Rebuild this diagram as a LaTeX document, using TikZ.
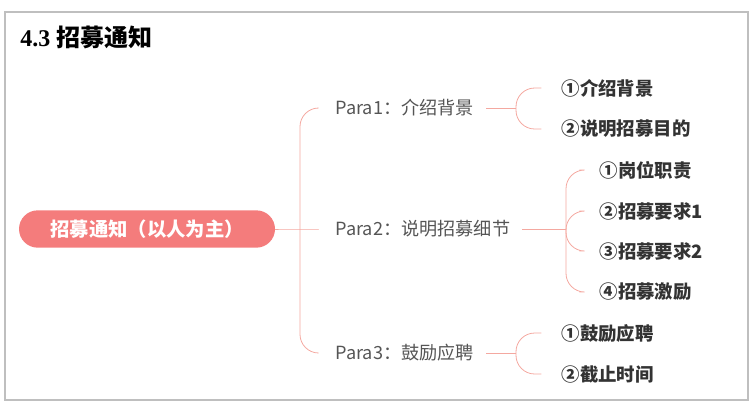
\documentclass[tikz,border=0pt]{standalone}
\usepackage{fontspec}
\setmainfont{Liberation Serif}
\newfontfamily\cjk{Noto Sans CJK SC}
\usetikzlibrary{positioning}
\definecolor{salmon}{HTML}{F47C7C}
\definecolor{branch}{HTML}{F4A8A0}
\definecolor{midgray}{HTML}{555555}
\definecolor{dark}{HTML}{333333}
\begin{document}
\begin{tikzpicture}[
  x=0.75pt, y=-0.75pt,
  root/.style = {fill=salmon,rounded corners=14pt,minimum width=192pt,minimum height=28pt,text=white,font=\cjk\bfseries\fontsize{14.5pt}{16pt}\selectfont},
  para/.style = {anchor=west,text=midgray,inner sep=1pt,font=\cjk\fontsize{13.6pt}{16pt}\selectfont},
  leaf/.style = {anchor=west,text=dark,inner sep=1pt,font=\cjk\bfseries\fontsize{13.8pt}{16pt}\selectfont},
  link/.style = {draw=branch,line width=0.6pt,rounded corners=14pt}
  ]
	\useasboundingbox (0,0) rectangle (756,408);
	\draw[gray!50,line width=0.8pt] (5,12) rectangle (748,400);

	\node[anchor=west,inner sep=0pt,font=\bfseries\fontsize{18pt}{20pt}\selectfont] (title) at (20,37) {4.3 {\cjk\bfseries 招募通知}};

	\node[root] (root) at (147,229) {招募通知（以人为主）};

	\node[para] (p1) at (334,108) {Para1：介绍背景};
	\node[para] (p2) at (334,229) {Para2：说明招募细节};
	\node[para] (p3) at (334,353) {Para3：鼓励应聘};

	\node[leaf] (a1) at (560,88) {①介绍背景};
	\node[leaf] (a2) at (560,129) {②说明招募目的};
	\node[leaf] (b1) at (598,170) {①岗位职责};
	\node[leaf] (b2) at (598,211) {②招募要求1};
	\node[leaf] (b3) at (598,251) {③招募要求2};
	\node[leaf] (b4) at (598,292) {④招募激励};
	\node[leaf] (c1) at (560,333) {①鼓励应聘};
	\node[leaf] (c2) at (560,374) {②截止时间};

	% forks
	\coordinate (f0) at (300,229);
	\coordinate (f1) at (516,108);
	\coordinate (f2) at (566,229);
	\coordinate (f3) at (516,353);

	\draw[link] (root.east) -- (f0) -- ([xshift=-12]p2.west);
	\draw[link] (f0) |- ([xshift=-12]p1.west);
	\draw[link] (f0) |- ([xshift=-12]p3.west);

	\draw[link] ([xshift=8]p1.east) -- (f1);
	\draw[link] (f1) |- ([xshift=-14]a1.west);
	\draw[link] (f1) |- ([xshift=-14]a2.west);

	\draw[link] ([xshift=8]p2.east) -- (f2);
	\foreach \n in {b1,b2,b3,b4}
		\draw[link] (f2) |- ([xshift=-14]\n.west);

	\draw[link] ([xshift=8]p3.east) -- (f3);
	\draw[link] (f3) |- ([xshift=-14]c1.west);
	\draw[link] (f3) |- ([xshift=-14]c2.west);
\end{tikzpicture}
\end{document}
